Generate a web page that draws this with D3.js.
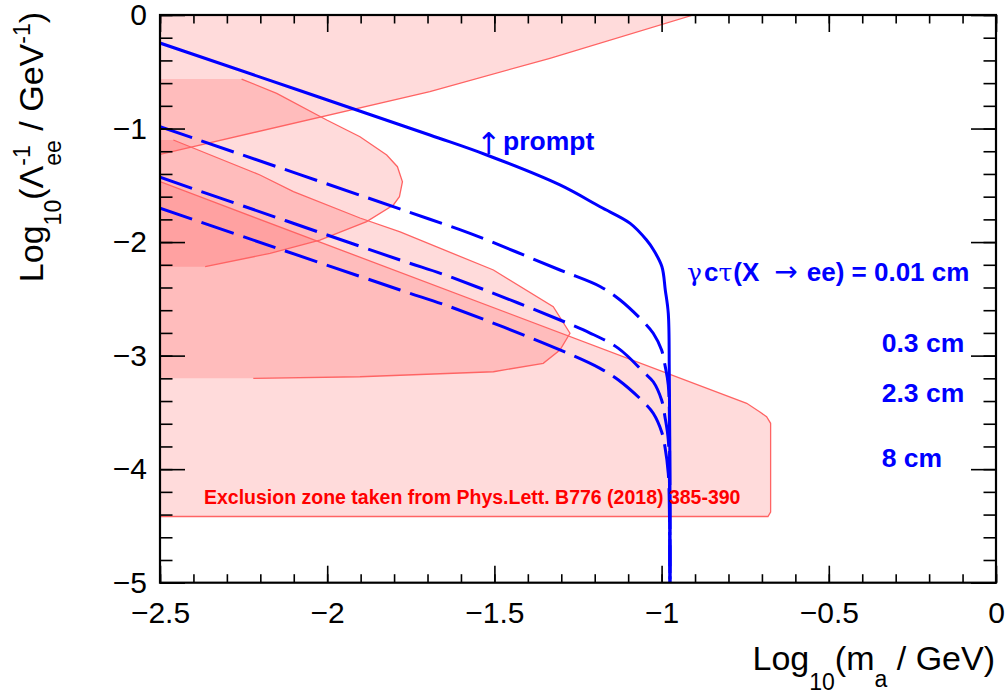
<!DOCTYPE html>
<html>
<head>
<meta charset="utf-8">
<script src="https://cdn.jsdelivr.net/npm/d3@7"></script>
<style>
  html, body { margin: 0; padding: 0; background: #fff; }
  svg { display: block; }
  text { font-family: "Liberation Sans", Arial, Helvetica, sans-serif; }
</style>
</head>
<body>
<svg id="chart" width="1008" height="696"></svg>
<script>
// ---- axis ticks ----
const xMajorTicks = [-2.5, -2, -1.5, -1, -0.5, 0];
const xTickLabels = ["\u22122.5", "\u22122", "\u22121.5", "\u22121", "\u22120.5", "0"];
const yMajorTicks = [0, -1, -2, -3, -4, -5];
const yTickLabels = ["0", "\u22121", "\u22122", "\u22123", "\u22124", "\u22125"];

// ---- decay-length contours: [log10(m_a/GeV), log10(Lambda_ee^-1/GeV^-1)] ----
const ctau001 = [[-2.5,-0.247],[-1.693,-1.057],[-1.523,-1.233],[-1.304,-1.497],[-1.184,-1.689],
  [-1.094,-1.835],[-1.045,-1.982],[-1.024,-2.070],[-0.999,-2.217],[-0.989,-2.422],[-0.980,-2.627],
  [-0.977,-3.153],[-0.975,-4.183],[-0.975,-5.0]];
const ctau03 = [[-2.5,-0.984],[-1.693,-1.799],[-1.573,-1.923],[-1.304,-2.246],[-1.184,-2.391],
  [-1.124,-2.510],[-1.050,-2.715],[-1.025,-2.803],[-1.000,-2.951],[-0.990,-3.083],[-0.980,-3.259],
  [-0.976,-3.831],[-0.975,-5.0]];
const ctau23 = [[-2.5,-1.429],[-1.782,-2.158],[-1.633,-2.305],[-1.214,-2.801],[-1.129,-2.936],
  [-1.050,-3.156],[-1.025,-3.230],[-1.000,-3.391],[-0.990,-3.538],[-0.980,-3.743],[-0.976,-4.272],
  [-0.975,-5.0]];
const ctau8 = [[-2.5,-1.702],[-1.782,-2.422],[-1.633,-2.569],[-1.304,-2.950],[-1.184,-3.112],
  [-1.129,-3.215],[-1.050,-3.420],[-1.025,-3.508],[-1.000,-3.670],[-0.990,-3.802],[-0.980,-4.037],
  [-0.976,-4.536],[-0.975,-5.0]];

// ---- excluded regions (outlines) ----
const zoneUpperEdge = [[-2.5,-1.227],[-1.693,-0.6755],[-1.334,-0.381],[-0.905,0]];
const zoneUpperClose = [[-2.5,0]];
const zoneBEdge = [[-2.256,-0.564],[-2.151,-0.690],[-2.0015,-0.925],[-1.902,-1.072],[-1.822,-1.233],
  [-1.790,-1.336],[-1.775,-1.468],[-1.784,-1.600],[-1.802,-1.673],[-1.882,-1.820],[-2.022,-1.982],
  [-2.171,-2.099],[-2.365,-2.217]];
const zoneBClose = [[-2.5,-2.217],[-2.5,-0.564]];
const zoneCEdge = [[-2.460,-1.101],[-2.201,-1.409],[-2.101,-1.556],[-1.902,-1.788],[-1.782,-1.911],
  [-1.503,-2.246],[-1.324,-2.569],[-1.274,-2.803],[-1.304,-2.951],[-1.354,-3.068],[-1.503,-3.142],
  [-1.902,-3.186],[-2.221,-3.200]];
const zoneCClose = [[-2.5,-3.200],[-2.5,-1.101]];
const zoneDEdge = [[-2.5,-1.468],[-0.7455,-3.420],[-0.706,-3.497],[-0.686,-3.538],[-0.674,-3.596],
  [-0.674,-4.377],[-0.682,-4.417],[-2.5,-4.417]];
const zoneDClose = [];

const svg = d3.select("#chart");
const frameL = 160, frameR = 996, frameT = 15, frameB = 582.7;
const x = d3.scaleLinear([-2.5, 0], [frameL, frameR]);
const y = d3.scaleLinear([-5, 0], [frameB, frameT]);

svg.append("clipPath").attr("id", "plotClip")
  .append("rect").attr("x", frameL).attr("y", frameT).attr("width", frameR - frameL).attr("height", frameB - frameT);

const plot = svg.append("g").attr("clip-path", "url(#plotClip)");

// excluded regions
const poly = d3.line().x(d => x(d[0])).y(d => y(d[1]));
const zones = [
  [zoneUpperEdge, zoneUpperClose],
  [zoneBEdge, zoneBClose],
  [zoneCEdge, zoneCClose],
  [zoneDEdge, zoneDClose]
];
zones.forEach(([edge, close]) => {
  plot.append("path").attr("d", poly(edge.concat(close)) + "Z")
    .attr("fill", "rgba(255,0,0,0.14)").attr("stroke", "none");
});
zones.forEach(([edge]) => {
  plot.append("path").attr("d", poly(edge))
    .attr("fill", "none").attr("stroke", "#ff6464").attr("stroke-width", 1.3);
});

// decay-length contours
const curve = d3.line().x(d => x(d[0])).y(d => y(d[1])).curve(d3.curveCatmullRom.alpha(0.5));
[[ctau8, true], [ctau23, true], [ctau03, true], [ctau001, false]].forEach(([pts, dashed]) => {
  plot.append("path").attr("d", curve(pts))
    .attr("fill", "none").attr("stroke", "#0000ff").attr("stroke-width", 3)
    .attr("stroke-dasharray", dashed ? "34,10" : null);
});

// annotations
svg.append("text").attr("x", 204).attr("y", 503.5)
  .attr("fill", "#ff0000").attr("font-weight", "bold").attr("font-size", 19.5)
  .text("Exclusion zone taken from Phys.Lett. B776 (2018) 385-390");

const blue = svg.append("g").attr("fill", "#0000ff");
blue.append("text").attr("x", 476).attr("y", 154).attr("font-size", 30)
  .style("font-family", "'DejaVu Sans', sans-serif").text("\u2191");
blue.append("text").attr("x", 503).attr("y", 150).attr("font-size", 26.5).attr("font-weight", "bold").text("prompt");

const lab = blue.append("text").attr("x", 687).attr("y", 281).attr("font-size", 26).attr("font-weight", "bold");
lab.append("tspan").style("font-family", "'DejaVu Serif', serif").attr("font-weight", "normal").attr("font-size", 25).text("\u03b3");
lab.append("tspan").attr("dx", 2).text("c");
lab.append("tspan").style("font-family", "'DejaVu Serif', serif").attr("font-weight", "normal").attr("font-size", 25).text("\u03c4");
lab.append("tspan").attr("dx", 1).text("(X");
lab.append("tspan").style("font-family", "'DejaVu Sans', sans-serif").attr("font-weight", "normal")
  .attr("font-size", 28).attr("dx", 15).text("\u2192");
lab.append("tspan").attr("dx", 9).text("ee) = 0.01 cm");

blue.append("text").attr("x", 881.7).attr("y", 351.7).attr("font-size", 26.5).attr("font-weight", "bold").text("0.3 cm");
blue.append("text").attr("x", 881.7).attr("y", 401.7).attr("font-size", 26.5).attr("font-weight", "bold").text("2.3 cm");
blue.append("text").attr("x", 881.7).attr("y", 466.7).attr("font-size", 26.5).attr("font-weight", "bold").text("8 cm");

// axes (ticks pointing inward on all four sides)
function styleAxis(g) {
  g.select(".domain").remove();
  g.selectAll(".tick line").attr("stroke", "#000").attr("stroke-width", 1.6);
  g.selectAll(".tick text").attr("fill", "#000").attr("font-size", 30)
    .style("font-family", "'Liberation Sans', Arial, sans-serif");
}
const xMinor = d3.range(-2.5, 0.001, 0.1);
const yMinor = d3.range(-5, 0.001, 0.2);

svg.append("g").attr("transform", `translate(0,${frameB})`)
  .call(d3.axisBottom(x).tickValues(xMinor).tickSize(-8.5).tickFormat("")).call(styleAxis);
svg.append("g").attr("transform", `translate(0,${frameB})`)
  .call(d3.axisBottom(x).tickValues(xMajorTicks).tickSize(-17).tickPadding(19)
    .tickFormat((d, i) => xTickLabels[i])).call(styleAxis);
svg.append("g").attr("transform", `translate(0,${frameT})`)
  .call(d3.axisTop(x).tickValues(xMinor).tickSize(-8.5).tickFormat("")).call(styleAxis);
svg.append("g").attr("transform", `translate(0,${frameT})`)
  .call(d3.axisTop(x).tickValues(xMajorTicks).tickSize(-17).tickFormat("")).call(styleAxis);

svg.append("g").attr("transform", `translate(${frameL},0)`)
  .call(d3.axisLeft(y).tickValues(yMinor).tickSize(-12.5).tickFormat("")).call(styleAxis);
svg.append("g").attr("transform", `translate(${frameL},0)`)
  .call(d3.axisLeft(y).tickValues(yMajorTicks).tickSize(-25).tickPadding(13)
    .tickFormat((d, i) => yTickLabels[i])).call(styleAxis);
svg.append("g").attr("transform", `translate(${frameR},0)`)
  .call(d3.axisRight(y).tickValues(yMinor).tickSize(-12.5).tickFormat("")).call(styleAxis);
svg.append("g").attr("transform", `translate(${frameR},0)`)
  .call(d3.axisRight(y).tickValues(yMajorTicks).tickSize(-25).tickFormat("")).call(styleAxis);

svg.append("rect").attr("x", frameL).attr("y", frameT).attr("width", frameR - frameL).attr("height", frameB - frameT)
  .attr("fill", "none").attr("stroke", "#000").attr("stroke-width", 2.2);

// axis titles
const xt = svg.append("text").attr("x", 995).attr("y", 670).attr("text-anchor", "end")
  .attr("font-size", 34).attr("fill", "#000");
xt.append("tspan").text("Log");
xt.append("tspan").attr("font-size", 23).attr("dy", 20).text("10");
xt.append("tspan").attr("dy", -20).text("(m");
xt.append("tspan").attr("font-size", 23).attr("dy", 17).text("a");
xt.append("tspan").attr("dy", -17).text(" / GeV)");

// y title: Lambda carries a stacked superscript and subscript
const yg = svg.append("g").attr("transform", "translate(43.3,12) rotate(-90)");
const probe = yg.append("text").attr("font-size", 23).text("-1");
const supW = probe.node().getComputedTextLength();
probe.remove();
const yt = yg.append("text").attr("x", 0).attr("y", 0).attr("text-anchor", "end")
  .attr("font-size", 34).attr("fill", "#000");
yt.append("tspan").text("Log");
yt.append("tspan").attr("font-size", 23).attr("dy", 18).text("10");
yt.append("tspan").attr("dy", -18).text("(\u039b");
yt.append("tspan").attr("font-size", 23).attr("dy", -13).text("-1");
yt.append("tspan").attr("font-size", 23).attr("dx", -supW).attr("dy", 31).text("ee");
yt.append("tspan").attr("dy", -18).text(" / GeV");
yt.append("tspan").attr("font-size", 23).attr("dy", -13).text("-1");
yt.append("tspan").attr("dy", 13).text(")");
</script>
</body>
</html>
